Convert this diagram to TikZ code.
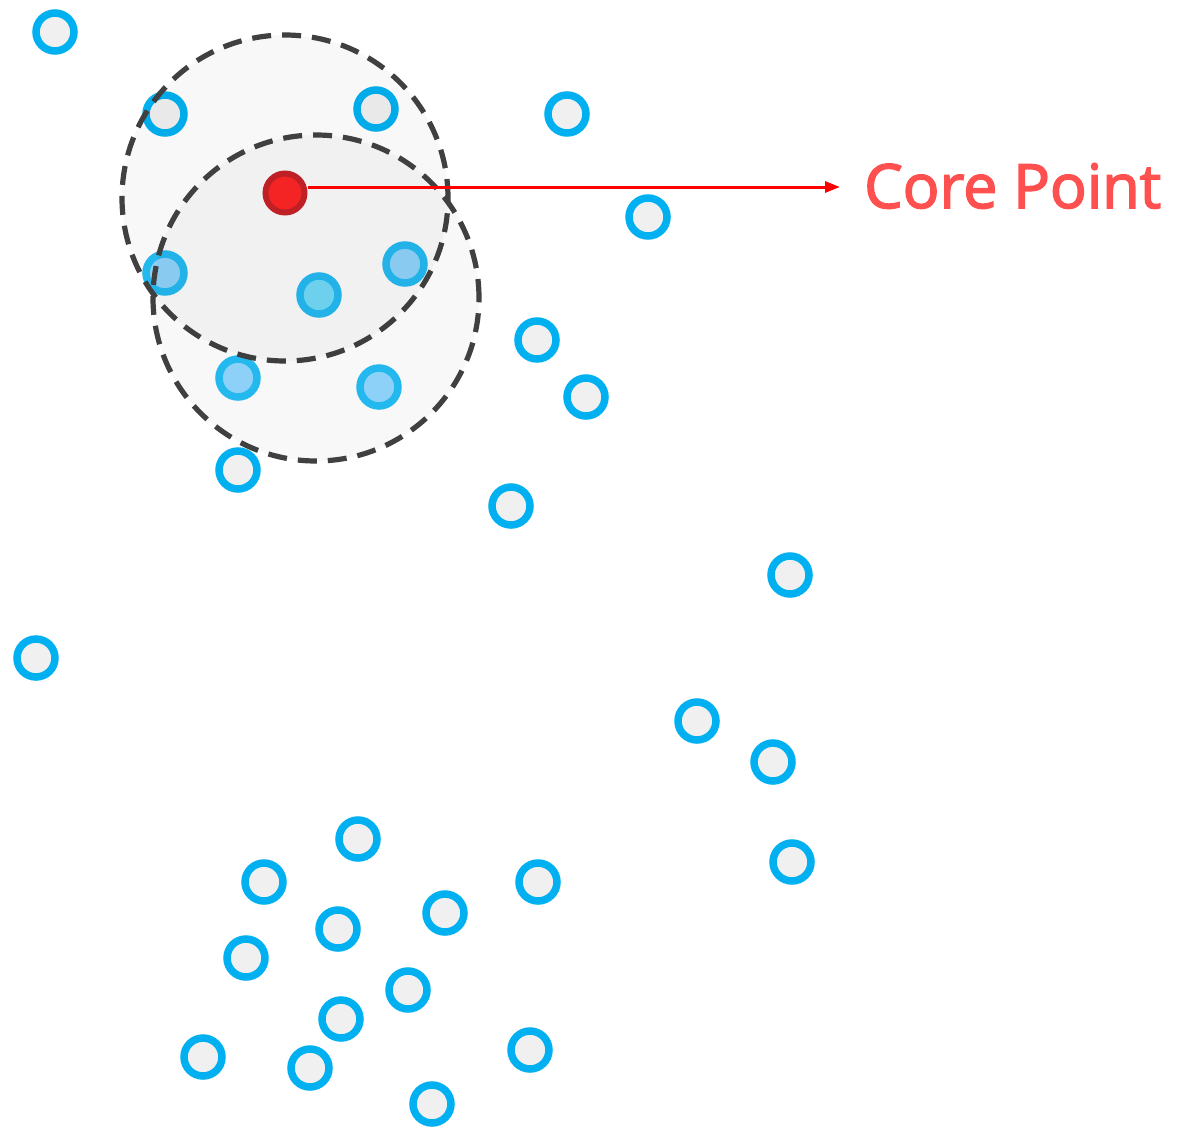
\documentclass[tikz,border=0pt]{standalone}
\usepackage{fontspec}
\setmainfont{Open Sans}
\newfontfamily\lblfont{Open Sans}[FakeBold=2.5]
\usetikzlibrary{arrows.meta}
\definecolor{ringblue}{HTML}{00B0F0}
\definecolor{ringin}{HTML}{24BEF5}
\definecolor{ptgray}{HTML}{F0F0F0}
\definecolor{ltblue}{HTML}{91D6FF}
\definecolor{ltcyan}{HTML}{75DEFC}
\definecolor{corefill}{HTML}{F42424}
\definecolor{corering}{HTML}{BE2026}
\definecolor{dashgray}{HTML}{404040}
\definecolor{labelred}{HTML}{FF5050}
\tikzset{
  pt/.style={circle,draw=ringblue,fill=ptgray,line width=7.5pt,minimum size=38pt,inner sep=0pt},
  nbpt/.style={pt,draw=ringin,fill=ltblue},
  cnpt/.style={pt,draw=ringin,fill=ltcyan},
  corept/.style={circle,draw=corering,fill=corefill,line width=6pt,minimum size=39pt,inner sep=0pt},
  zone/.style={draw=dashgray,line width=5.2pt,dash pattern=on 19pt off 11pt,fill=black,fill opacity=0.026},
  arr/.style={draw=red,line width=3pt,-{Triangle[length=15pt,width=11pt]}},
}
\begin{document}
\begin{tikzpicture}[x=1pt,y=-1pt]
\useasboundingbox[fill=white] (0,0) rectangle (1178,1138);
% points
\node[pt] (p1) at (55,32) {};
\node[pt] (p2) at (165,114) {};
\node[pt] (p3) at (376,109) {};
\node[pt] (p4) at (567,114) {};
\node[pt] (p5) at (648,217) {};
\node[nbpt] (p6) at (165,273) {};
\node[nbpt] (p7) at (405,264) {};
\node[cnpt] (p8) at (319,295) {};
\node[pt] (p9) at (537,340) {};
\node[nbpt] (p10) at (238,378) {};
\node[nbpt] (p11) at (379,387) {};
\node[pt] (p12) at (586,397) {};
\node[pt] (p13) at (238,470) {};
\node[pt] (p14) at (511,506) {};
\node[pt] (p15) at (790,575) {};
\node[pt] (p16) at (36,658) {};
\node[pt] (p17) at (697,721) {};
\node[pt] (p18) at (773,762) {};
\node[pt] (p19) at (358,839) {};
\node[pt] (p20) at (264,882) {};
\node[pt] (p21) at (538,882) {};
\node[pt] (p22) at (792,862) {};
\node[pt] (p23) at (445,913) {};
\node[pt] (p24) at (338,929) {};
\node[pt] (p25) at (246,958) {};
\node[pt] (p26) at (408,990) {};
\node[pt] (p27) at (341,1019) {};
\node[pt] (p28) at (203,1057) {};
\node[pt] (p29) at (310,1068) {};
\node[pt] (p30) at (530,1050) {};
\node[pt] (p31) at (432,1104) {};
% neighbourhoods
\draw[zone] (285,198) circle[radius=163pt];
\draw[zone] (316,298) circle[radius=163pt];
% core point
\node[corept] (core) at (285,193) {};
\coordinate (tip) at (840,187);
\draw[arr] (core.east |- tip) -- (tip);
\node[anchor=base west,inner sep=0pt,text=labelred,font=\lblfont\fontsize{61}{72}\selectfont] (lbl) at (864,208) {Core Point};
\end{tikzpicture}
\end{document}
